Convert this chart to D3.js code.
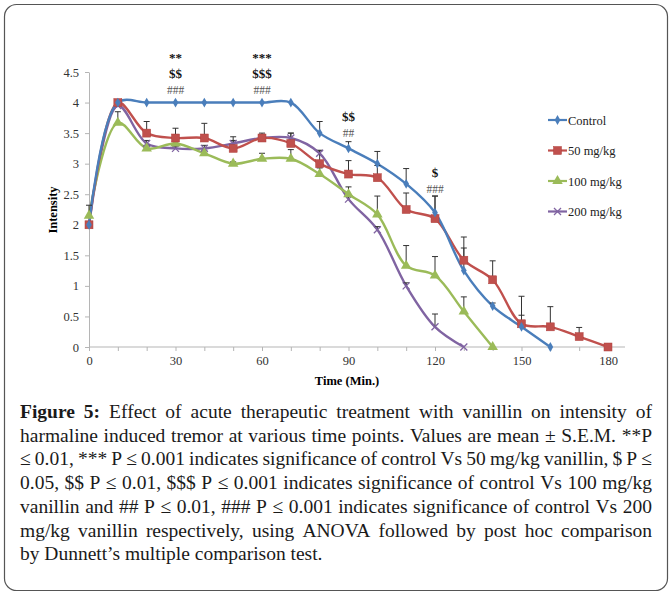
<!DOCTYPE html>
<html>
<head>
<meta charset="utf-8">
<script src="https://cdn.jsdelivr.net/npm/d3@7"></script>
<style>
  body { margin: 0; background: #fff; }
  svg { display: block; }
</style>
</head>
<body>
<svg id="vis" width="672" height="595"></svg>
<script>
// time points (min)
var times = [0, 10, 20, 30, 40, 50, 60, 70, 80, 90, 100, 110, 120, 130, 140, 150, 160, 170, 180];

var seriesNames = ["Control", "50 mg/kg", "100 mg/kg", "200 mg/kg"];

// mean intensity, one array per group
var controlVals = [2, 4, 4, 4, 4, 4, 4, 4, 3.5, 3.25, 3.0, 2.67, 2.2, 1.25, 0.67, 0.33, 0];
var mg50Vals    = [2, 4, 3.5, 3.42, 3.42, 3.25, 3.42, 3.33, 3.0, 2.83, 2.77, 2.25, 2.1, 1.42, 1.1, 0.38, 0.33, 0.17, 0];
var mg100Vals   = [2.15, 3.67, 3.25, 3.33, 3.17, 3.0, 3.08, 3.08, 2.83, 2.5, 2.17, 1.33, 1.17, 0.58, 0];
var mg200Vals   = [2, 3.95, 3.33, 3.25, 3.25, 3.33, 3.42, 3.42, 3.17, 2.42, 1.92, 1.0, 0.33, 0];

// S.E.M. (upper bars only)
var controlErr = [0, 0, 0, 0, 0, 0, 0, 0, 0.19, 0.11, 0.2, 0.25, 0.27, 0.37, 0.05, 0.19, 0];
var mg50Err    = [0, 0, 0.19, 0.16, 0.24, 0.19, 0.08, 0.17, 0.21, 0.22, 0.2, 0.27, 0.37, 0.38, 0.31, 0.45, 0.33, 0.15, 0];
var mg100Err   = [0.17, 0.18, 0.05, 0.05, 0.05, 0.03, 0.09, 0.15, 0.1, 0.12, 0.3, 0.33, 0.31, 0.24, 0];
var mg200Err   = [0, 0, 0.05, 0.03, 0.05, 0.05, 0.05, 0.08, 0.05, 0.05, 0.05, 0.05, 0.21, 0];

var yTicks = [0, 0.5, 1, 1.5, 2, 2.5, 3, 3.5, 4, 4.5];
var xTicks = [0, 10, 20, 30, 40, 50, 60, 70, 80, 90, 100, 110, 120, 130, 140, 150, 160, 170, 180];

// significance marks above time points
var sigTimes  = [30, 60, 90, 120];
var sigLevels = [4.22, 4.22, 3.51, 2.6];
var sigLabels = [["**", "$$", "###"], ["***", "$$$", "###"], ["$$", "##"], ["$", "###"]];

var captionLines = [
    "Figure 5: Effect of acute therapeutic treatment with vanillin on intensity of",
    "harmaline induced tremor at various time points. Values are mean ± S.E.M. **P",
    "≤ 0.01, *** P ≤ 0.001 indicates significance of control Vs 50 mg/kg vanillin, $ P ≤",
    "0.05, $$ P ≤ 0.01, $$$ P ≤ 0.001 indicates significance of control Vs 100 mg/kg",
    "vanillin and ## P ≤ 0.01, ### P ≤ 0.001 indicates significance of control Vs 200",
    "mg/kg vanillin respectively, using ANOVA followed by post hoc comparison",
    "by Dunnett’s multiple comparison test."
];

var colors = ["#4a7ebb", "#c0504d", "#9bbb59", "#8064a2"];
var shapes = ["diamond", "square", "triangle", "cross"];
const SERIF = "'Liberation Serif', 'DejaVu Serif', serif";

var svg = d3.select("#vis");
svg.append("rect").attr("width", 672).attr("height", 595).attr("fill", "#fff");
svg.append("rect")
    .attr("x", 4.5).attr("y", 4.5).attr("width", 663).attr("height", 586)
    .attr("rx", 12)
    .attr("fill", "none").attr("stroke", "#555").attr("stroke-width", 1.2);

var x = d3.scaleLinear().domain([0, 180]).range([89, 608]);
var y = d3.scaleLinear().domain([0, 4.5]).range([347, 72]);

// axes
var yAxis = d3.axisLeft(y).tickValues(yTicks).tickSize(4).tickSizeOuter(0)
    .tickFormat(d3.format(""));
var gy = svg.append("g").attr("transform", "translate(89,0)").call(yAxis);

var xAxis = d3.axisBottom(x).tickValues(xTicks).tickSize(4).tickSizeOuter(0)
    .tickFormat(function(d){ return d % 30 === 0 ? d : ""; });
var gx = svg.append("g").attr("transform", "translate(0,347)").call(xAxis);
gx.select(".domain").attr("d", "M89,0H625");

[gx, gy].forEach(function(g){
    g.selectAll(".domain, line").attr("stroke", "#b5b5b5");
    g.selectAll("text").attr("fill", "#333").style("font-family", SERIF).style("font-size", "12.5px");
});
gx.selectAll("text").attr("dy", "0.85em");
gy.selectAll("text").attr("dx", "-3px");

svg.append("text")
    .attr("x", 347).attr("y", 385)
    .attr("text-anchor", "middle")
    .style("font-family", SERIF).style("font-size", "12.5px").style("font-weight", "bold")
    .text("Time (Min.)");

svg.append("text")
    .attr("transform", "translate(57,210) rotate(-90)")
    .attr("text-anchor", "middle")
    .style("font-family", SERIF).style("font-size", "12.5px").style("font-weight", "bold")
    .text("Intensity");

// build series
var allVals = [controlVals, mg50Vals, mg100Vals, mg200Vals];
var allErr = [controlErr, mg50Err, mg100Err, mg200Err];
var series = allVals.map(function(vals, i){
    return {
        name: seriesNames[i],
        color: colors[i],
        shape: shapes[i],
        points: vals.map(function(v, j){ return {t: times[j], v: v, e: allErr[i][j]}; })
    };
});

var line = d3.line()
    .x(function(d){ return x(d.t); })
    .y(function(d){ return y(d.v); })
    .curve(d3.curveCatmullRom.alpha(0.5));

// draw lines last series first so control sits on top
var plot = svg.append("g");
series.slice().reverse().forEach(function(s){
    plot.append("path")
        .datum(s.points)
        .attr("d", line)
        .attr("fill", "none")
        .attr("stroke", s.color)
        .attr("stroke-width", 2.4);
});

// error bars (upper)
series.forEach(function(s){
    var eb = plot.append("g").selectAll("g")
        .data(s.points.filter(function(d){ return d.e > 0; }))
        .enter().append("g");
    eb.append("line")
        .attr("x1", function(d){ return x(d.t); })
        .attr("x2", function(d){ return x(d.t); })
        .attr("y1", function(d){ return y(d.v); })
        .attr("y2", function(d){ return y(d.v + d.e); })
        .attr("stroke", "#333").attr("stroke-width", 1);
    eb.append("line")
        .attr("x1", function(d){ return x(d.t) - 3; })
        .attr("x2", function(d){ return x(d.t) + 3; })
        .attr("y1", function(d){ return y(d.v + d.e); })
        .attr("y2", function(d){ return y(d.v + d.e); })
        .attr("stroke", "#333").attr("stroke-width", 1);
});

function drawMarker(g, shape, color){
    if (shape === "diamond") {
        g.append("path").attr("d", d3.symbol(d3.symbolDiamond, 28)()).attr("fill", color);
    } else if (shape === "square") {
        g.append("rect").attr("x", -4).attr("y", -4).attr("width", 8).attr("height", 8)
            .attr("fill", color).attr("stroke", "#b0403d").attr("stroke-width", 0.5);
    } else if (shape === "triangle") {
        g.append("path").attr("d", d3.symbol(d3.symbolTriangle, 48)()).attr("fill", color);
    } else {
        g.append("path").attr("d", "M-3.5,-3.5L3.5,3.5M-3.5,3.5L3.5,-3.5")
            .attr("stroke", color).attr("stroke-width", 1.3).attr("fill", "none");
    }
}

series.slice().reverse().forEach(function(s){
    plot.append("g").selectAll("g")
        .data(s.points)
        .enter().append("g")
        .attr("transform", function(d){ return "translate(" + x(d.t) + "," + y(d.v) + ")"; })
        .each(function(){ drawMarker(d3.select(this), s.shape, s.color); });
});

// significance labels
sigTimes.forEach(function(t, i){
    var labs = sigLabels[i];
    labs.forEach(function(lab, k){
        var fromBottom = labs.length - 1 - k;
        var isHash = lab.charAt(0) === "#";
        svg.append("text")
            .attr("x", x(t))
            .attr("y", y(sigLevels[i]) - fromBottom * 16 + 4.5)
            .attr("text-anchor", "middle")
            .style("font-family", SERIF)
            .style("font-size", isHash ? "11.5px" : "13px")
            .style("font-weight", isHash ? "normal" : "bold")
            .attr("fill", isHash ? "#555" : "#111")
            .text(lab);
    });
});

// legend
var legend = svg.append("g").selectAll("g")
    .data(series)
    .enter().append("g")
    .attr("transform", function(d, i){ return "translate(548," + (120 + i * 30.5) + ")"; });
legend.append("line")
    .attr("x1", 0).attr("x2", 19)
    .attr("stroke", function(d){ return d.color; }).attr("stroke-width", 2.2);
legend.append("g").attr("transform", "translate(9.5,0)")
    .each(function(d){ drawMarker(d3.select(this), d.shape, d.color); });
legend.append("text")
    .attr("x", 20).attr("y", 4.5)
    .style("font-family", SERIF).style("font-size", "12.5px")
    .attr("fill", "#222")
    .text(function(d){ return d.name; });

// caption, justified
var capLeft = 20, capRight = 652, capTop = 418, capStep = 23.7;
captionLines.forEach(function(txt, li){
    var words = txt.split(" ");
    var g = svg.append("g");
    var nodes = words.map(function(w, wi){
        return g.append("text")
            .attr("y", capTop + li * capStep)
            .style("font-family", SERIF)
            .style("font-size", "19.5px")
            .style("font-weight", (li === 0 && wi < 2) ? "bold" : "normal")
            .attr("fill", "#1a1a1a")
            .text(w);
    });
    var widths = nodes.map(function(n){ return n.node().getComputedTextLength(); });
    var total = d3.sum(widths);
    var last = li === captionLines.length - 1;
    var gap = last ? 4.8 : (capRight - capLeft - total) / (words.length - 1);
    var scale = 1;
    if (gap < 3.5) {
        scale = (capRight - capLeft - 3.5 * (words.length - 1)) / total;
        gap = 3.5;
    }
    var cx = capLeft;
    nodes.forEach(function(n, k){
        n.attr("x", cx);
        if (scale < 1) n.attr("textLength", widths[k] * scale).attr("lengthAdjust", "spacingAndGlyphs");
        cx += widths[k] * scale + gap;
    });
});
</script>
</body>
</html>
